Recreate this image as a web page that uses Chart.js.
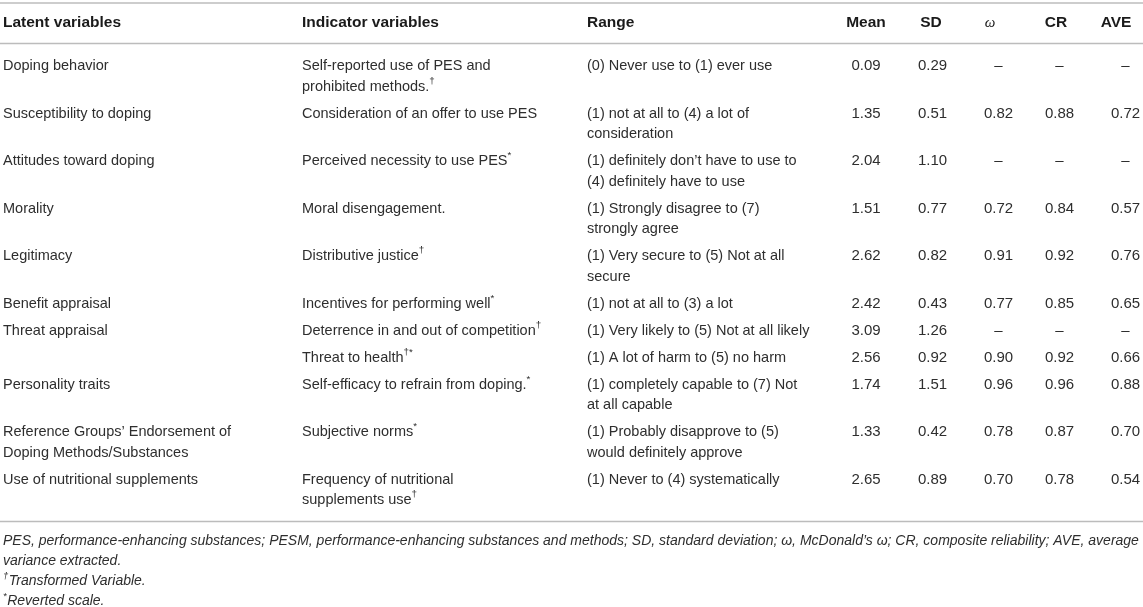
<!DOCTYPE html>
<html>
<head>
<meta charset="utf-8">
<script src="https://cdn.jsdelivr.net/npm/chart.js@4.4.1/dist/chart.umd.min.js"></script>
<style>
  html, body { margin: 0; padding: 0; background: #ffffff; }
  #wrap { width: 1143px; height: 607px; }
</style>
</head>
<body>
<div id="wrap"><canvas id="c" width="1143" height="607"></canvas></div>
<script>
// ---------------- DATA ----------------
const headers = ["Latent variables", "Indicator variables", "Range", "Mean", "SD", "ω", "CR", "AVE"];

const latentVariables = [
  "Doping behavior",
  "Susceptibility to doping",
  "Attitudes toward doping",
  "Morality",
  "Legitimacy",
  "Benefit appraisal",
  "Threat appraisal",
  "",
  "Personality traits",
  "Reference Groups’ Endorsement of\nDoping Methods/Substances",
  "Use of nutritional supplements"
];

const indicatorVariables = [
  "Self-reported use of PES and\nprohibited methods.†",
  "Consideration of an offer to use PES",
  "Perceived necessity to use PES*",
  "Moral disengagement.",
  "Distributive justice†",
  "Incentives for performing well*",
  "Deterrence in and out of competition†",
  "Threat to health†*",
  "Self-efficacy to refrain from doping.*",
  "Subjective norms*",
  "Frequency of nutritional\nsupplements use†"
];

const ranges = [
  "(0) Never use to (1) ever use",
  "(1) not at all to (4) a lot of\nconsideration",
  "(1) definitely don’t have to use to\n(4) definitely have to use",
  "(1) Strongly disagree to (7)\nstrongly agree",
  "(1) Very secure to (5) Not at all\nsecure",
  "(1) not at all to (3) a lot",
  "(1) Very likely to (5) Not at all likely",
  "(1) A lot of harm to (5) no harm",
  "(1) completely capable to (7) Not\nat all capable",
  "(1) Probably disapprove to (5)\nwould definitely approve",
  "(1) Never to (4) systematically"
];

const means  = [0.09, 1.35, 2.04, 1.51, 2.62, 2.42, 3.09, 2.56, 1.74, 1.33, 2.65];
const sds    = [0.29, 0.51, 1.10, 0.77, 0.82, 0.43, 1.26, 0.92, 1.51, 0.42, 0.89];
const omegas = [null, 0.82, null, 0.72, 0.91, 0.77, null, 0.90, 0.96, 0.78, 0.70];
const compositeReliability     = [null, 0.88, null, 0.84, 0.92, 0.85, null, 0.92, 0.96, 0.87, 0.78];
const averageVarianceExtracted = [null, 0.72, null, 0.57, 0.76, 0.65, null, 0.66, 0.88, 0.70, 0.54];

const footnotes = [
  "PES, performance-enhancing substances; PESM, performance-enhancing substances and methods; SD, standard deviation; ω, McDonald’s ω; CR, composite reliability; AVE, average",
  "variance extracted.",
  "†Transformed Variable.",
  "*Reverted scale."
];

// ---------------- LAYOUT (positions / styles) ----------------
const W = 1143, H = 607;
const FONT_FAMILY = '"Liberation Sans", Arial, Helvetica, sans-serif';
const TEXT_FONT = { size: 14.5, style: 'normal', weight: 'normal', family: FONT_FAMILY };
const NUM_FONT  = { size: 15, style: 'normal', weight: 'normal', family: FONT_FAMILY };
const HEAD_FONT = { size: 15.5, style: 'normal', weight: 'bold', family: FONT_FAMILY };
const OMEGA_FONT = { size: 15, style: 'italic', weight: 'normal', family: '"Liberation Serif", "DejaVu Serif", serif' };
const FOOT_FONT = { size: 14, style: 'italic', weight: 'normal', family: FONT_FAMILY };
const BODY_COLOR = '#2e2e2e';
const HEAD_COLOR = '#1a1a1a';
const RULE_COLOR = '#bcbcbc';

const COL_X      = [3, 302, 587, 866, 932.5, 998.5, 1059.5, 1125.5];
const HEADER_X   = [3, 302, 587, 866, 931, 990, 1056, 1116];
const COL_ALIGN  = ['left', 'left', 'left', 'center', 'center', 'center', 'center', 'center'];

const TOP_RULE = 3;
const HEADER_Y = 23;
const HEADER_RULE = 43.5;
const FIRST_ROW_Y = 66;
const LINE_H = 20.5;
const ROW_GAP = 6.5;
const BOTTOM_PAD = 21.5;
const FOOT_FIRST_GAP = 20;
const FOOT_LINE_H = 20;
const FOOT_X = 3;

// ---------------- BUILD ----------------
const fmt = v => (v === null ? '–' : v.toFixed(2));
const columns = [
  latentVariables,
  indicatorVariables,
  ranges,
  means.map(fmt),
  sds.map(fmt),
  omegas.map(fmt),
  compositeReliability.map(fmt),
  averageVarianceExtracted.map(fmt)
];

const nRows = latentVariables.length;
const rowLines = [];
for (let i = 0; i < nRows; i++) {
  rowLines.push(Math.max(...columns.map(col => String(col[i]).split('\n').length)));
}
const rowY = [];
{
  let y = FIRST_ROW_Y;
  for (let i = 0; i < nRows; i++) { rowY.push(y); y += rowLines[i] * LINE_H + ROW_GAP; }
}
const lastLineY = rowY[nRows - 1] + (rowLines[nRows - 1] - 1) * LINE_H;
const BOTTOM_RULE = lastLineY + BOTTOM_PAD;

function ruleDataset(y) {
  return {
    type: 'line',
    data: [{ x: 0, y: y }, { x: W, y: y }],
    borderColor: RULE_COLOR,
    borderWidth: 1.6,
    pointRadius: 0,
    fill: false,
    clip: false
  };
}

function textDataset(points, font, align, color) {
  return {
    type: 'scatter',
    data: points,
    pointRadius: 0,
    pointHoverRadius: 0,
    showLine: false,
    clip: false,
    textFont: font,
    textAlign: align,
    textColor: color
  };
}

const datasets = [ruleDataset(TOP_RULE), ruleDataset(HEADER_RULE), ruleDataset(BOTTOM_RULE)];

// header cells
headers.forEach((h, c) => {
  datasets.push(textDataset([{ x: HEADER_X[c], y: HEADER_Y, t: h }],
    h === 'ω' ? OMEGA_FONT : HEAD_FONT, COL_ALIGN[c], HEAD_COLOR));
});

// body cells
columns.forEach((col, c) => {
  const pts = [];
  col.forEach((txt, i) => {
    String(txt).split('\n').forEach((line, k) => {
      if (line.length) pts.push({ x: COL_X[c], y: rowY[i] + k * LINE_H, t: line });
    });
  });
  datasets.push(textDataset(pts, c < 3 ? TEXT_FONT : NUM_FONT, COL_ALIGN[c], BODY_COLOR));
});

// footnotes
datasets.push(textDataset(
  footnotes.map((f, k) => ({ x: FOOT_X, y: BOTTOM_RULE + FOOT_FIRST_GAP + k * FOOT_LINE_H, t: f })),
  FOOT_FONT, 'left', BODY_COLOR));

// ---------------- RICH TEXT PLUGIN ----------------
function fontStr(f, size) {
  return `${f.style} ${f.weight} ${size}px ${f.family}`;
}
function segments(text) {
  return text.split(/([†*]+)/).filter(s => s.length).map(s => ({ s, sup: /^[†*]+$/.test(s) }));
}
function drawRich(ctx, text, x, y, f, align, color) {
  const segs = segments(text);
  const supSize = f.size * 0.68;
  let total = 0;
  segs.forEach(sg => {
    ctx.font = fontStr(f, sg.sup ? supSize : f.size);
    sg.w = ctx.measureText(sg.s).width;
    total += sg.w;
  });
  let cx = align === 'center' ? x - total / 2 : (align === 'right' ? x - total : x);
  ctx.fillStyle = color;
  ctx.textAlign = 'left';
  ctx.textBaseline = 'middle';
  segs.forEach(sg => {
    ctx.font = fontStr(f, sg.sup ? supSize : f.size);
    ctx.fillText(sg.s, cx, sg.sup ? y - f.size * 0.38 : y);
    cx += sg.w + (sg.sup ? 0.5 : 0);
  });
}

const tableTextPlugin = {
  id: 'tableText',
  afterDatasetsDraw(chart) {
    const ctx = chart.ctx;
    ctx.save();
    chart.data.datasets.forEach((ds, di) => {
      if (!ds.textFont) return;
      const meta = chart.getDatasetMeta(di);
      meta.data.forEach((el, j) => {
        drawRich(ctx, ds.data[j].t, el.x, el.y, ds.textFont, ds.textAlign, ds.textColor);
      });
    });
    ctx.restore();
  }
};

new Chart(document.getElementById('c'), {
  type: 'scatter',
  data: { datasets },
  options: {
    responsive: false,
    animation: false,
    events: [],
    layout: { padding: 0 },
    scales: {
      x: { type: 'linear', min: 0, max: W, display: false },
      y: { type: 'linear', min: 0, max: H, reverse: true, display: false }
    },
    plugins: { legend: { display: false }, tooltip: { enabled: false } }
  },
  plugins: [tableTextPlugin]
});
</script>
</body>
</html>
